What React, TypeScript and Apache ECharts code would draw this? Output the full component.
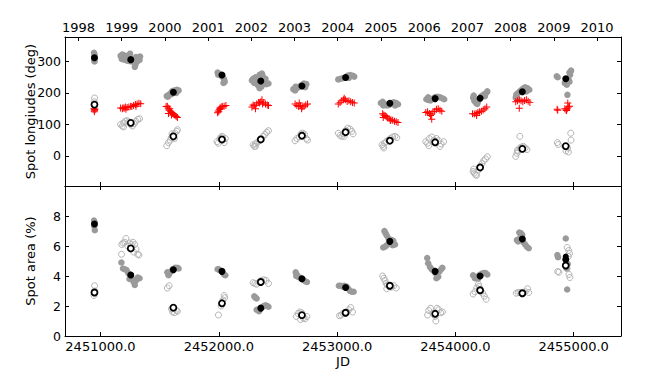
import React, { useEffect, useRef } from "react";
import * as echarts from "echarts";

// ---------- data ----------
const seasonJD = [2450949, 2451256, 2451616, 2452027, 2452355, 2452703, 2453072, 2453446, 2453829, 2454209, 2454566, 2454933];
const spotALonMean = [312, 306, 202, 257, 238, 222, 249, 167, 182, 183, 204, 245];
const spotBLonMean = [163, 105, 62, 52, 52, 64, 75, 48, 43, -37, 22, 31];
const spotAAreaMean = [7.47, 4.07, 4.42, 4.31, 1.86, 3.82, 3.23, 6.31, 4.31, 4.0, 6.47, 5.1];
const spotBAreaMean = [2.9, 5.84, 1.89, 2.18, 3.6, 1.39, 1.55, 3.35, 1.48, 3.05, 2.85, 4.7];
const spotAAreaExtra: [number, number][] = [[2454933, 5.3]];

const jdTicks = [2451000, 2452000, 2453000, 2454000, 2455000];
const yearLabels = ["1998", "1999", "2000", "2001", "2002", "2003", "2004", "2005", "2006", "2007", "2008", "2009", "2010"];
const yearJD = [2450814.5, 2451179.5, 2451544.5, 2451910.5, 2452275.5, 2452640.5, 2453005.5, 2453371.5, 2453736.5, 2454101.5, 2454466.5, 2454832.5, 2455197.5];
const lonTicks = [0, 100, 200, 300];
const areaTicks = [0, 2, 4, 6, 8];

const spotALonSamples: [number, number][] = [
  [2450945, 328], [2450950, 322], [2450948, 316], [2450952, 310], [2450946, 304], [2450950, 300],
  [2451170, 318], [2451185, 322], [2451200, 320], [2451215, 315], [2451230, 318], [2451245, 310], [2451180, 308], [2451200, 306], [2451225, 303], [2451260, 300], [2451280, 306], [2451300, 314], [2451320, 312], [2451335, 316], [2451310, 300], [2451295, 290], [2451290, 283], [2451330, 305], [2451250, 325], [2451240, 302],
  [2451560, 190], [2451575, 193], [2451590, 198], [2451605, 205], [2451625, 208], [2451645, 210], [2451660, 208], [2451640, 200], [2451600, 196], [2451570, 188],
  [2451990, 265], [2452000, 262], [2452010, 258], [2452020, 255], [2452035, 250], [2452045, 243], [2452050, 236], [2452040, 232], [2451995, 258],
  [2452290, 245], [2452300, 232], [2452310, 250], [2452330, 240], [2452345, 258], [2452365, 262], [2452375, 248], [2452385, 235], [2452400, 228], [2452420, 230], [2452330, 225], [2452345, 215], [2452360, 220], [2452280, 240], [2452395, 245], [2452370, 255],
  [2452630, 212], [2452645, 208], [2452660, 215], [2452680, 220], [2452700, 225], [2452720, 230], [2452740, 228], [2452730, 218], [2452650, 220],
  [2453010, 243], [2453030, 245], [2453050, 247], [2453070, 250], [2453090, 255], [2453110, 257], [2453130, 255], [2453145, 252], [2453100, 248],
  [2453370, 168], [2453385, 172], [2453400, 165], [2453420, 160], [2453440, 162], [2453460, 168], [2453480, 170], [2453500, 168], [2453515, 164], [2453490, 160], [2453390, 160],
  [2453755, 180], [2453770, 178], [2453790, 176], [2453810, 182], [2453830, 187], [2453850, 188], [2453870, 186], [2453890, 183], [2453905, 180], [2453770, 186],
  [2454150, 185], [2454160, 175], [2454175, 168], [2454190, 172], [2454200, 180], [2454220, 190], [2454240, 195], [2454260, 200], [2454270, 205], [2454250, 190], [2454155, 192], [2454185, 165],
  [2454510, 185], [2454515, 195], [2454530, 200], [2454545, 205], [2454560, 210], [2454575, 215], [2454590, 218], [2454610, 215], [2454625, 210], [2454600, 205], [2454520, 182],
  [2454865, 250], [2454857, 253], [2454964, 265], [2454978, 271], [2454970, 258], [2454964, 236], [2454942, 226], [2454925, 232], [2454947, 194], [2454955, 246],
];

const redLonSamples: [number, number][] = [
  [2450945, 150], [2450950, 145], [2450948, 140], [2450952, 147],
  [2451170, 152], [2451185, 150], [2451200, 151], [2451215, 148], [2451225, 154], [2451240, 155], [2451255, 158], [2451265, 157], [2451280, 160], [2451295, 163], [2451310, 165], [2451325, 167], [2451340, 166], [2451300, 158], [2451210, 155], [2451190, 153],
  [2451555, 157], [2451565, 158], [2451572, 152], [2451580, 145], [2451585, 150], [2451592, 140], [2451600, 138], [2451610, 135], [2451620, 132], [2451630, 128], [2451640, 125], [2451650, 122], [2451600, 130], [2451575, 135],
  [2451990, 137], [2451995, 143], [2452005, 148], [2452010, 152], [2452020, 155], [2452030, 157], [2452045, 158], [2452060, 160], [2452000, 140], [2452015, 150],
  [2452280, 155], [2452290, 162], [2452300, 160], [2452310, 150], [2452320, 165], [2452335, 170], [2452345, 168], [2452355, 172], [2452365, 178], [2452380, 170], [2452395, 165], [2452410, 162], [2452420, 160], [2452370, 165],
  [2452645, 165], [2452660, 160], [2452675, 157], [2452690, 160], [2452705, 155], [2452720, 158], [2452735, 162], [2452750, 165], [2452700, 150], [2452680, 168],
  [2453010, 165], [2453025, 170], [2453040, 175], [2453055, 178], [2453070, 178], [2453085, 173], [2453100, 175], [2453115, 172], [2453130, 170], [2453145, 168], [2453060, 183],
  [2453385, 134], [2453395, 130], [2453405, 128], [2453415, 125], [2453425, 120], [2453440, 118], [2453455, 115], [2453470, 113], [2453485, 110], [2453500, 108], [2453515, 106], [2453390, 122], [2453450, 112],
  [2453750, 138], [2453765, 140], [2453780, 135], [2453795, 133], [2453810, 140], [2453825, 142], [2453840, 148], [2453855, 150], [2453870, 145], [2453885, 142], [2453800, 116], [2453790, 128],
  [2454145, 134], [2454160, 133], [2454175, 135], [2454190, 138], [2454205, 140], [2454220, 142], [2454235, 146], [2454250, 150], [2454265, 155], [2454180, 128],
  [2454510, 172], [2454525, 175], [2454540, 178], [2454555, 175], [2454570, 172], [2454585, 176], [2454600, 178], [2454615, 174], [2454630, 170], [2454540, 151],
  [2454860, 148], [2454865, 145], [2454925, 150], [2454935, 146], [2454945, 150], [2454955, 155], [2454965, 158], [2454950, 168], [2454940, 144],
];

const spotBLonSamples: [number, number][] = [
  [2450950, 184], [2450948, 172], [2450952, 150], [2450946, 146],
  [2451170, 100], [2451185, 95], [2451195, 105], [2451210, 110], [2451225, 112], [2451240, 108], [2451255, 100], [2451270, 95], [2451285, 102], [2451300, 110], [2451315, 116], [2451330, 118], [2451195, 92],
  [2451560, 32], [2451575, 42], [2451590, 50], [2451600, 58], [2451615, 66], [2451630, 72], [2451645, 78], [2451650, 83], [2451605, 70], [2451625, 55],
  [2451985, 45], [2451995, 40], [2452010, 55], [2452020, 60], [2452035, 50], [2452045, 42], [2452055, 55], [2452030, 62],
  [2452290, 35], [2452300, 30], [2452310, 38], [2452325, 42], [2452340, 48], [2452360, 55], [2452375, 62], [2452390, 68], [2452405, 75], [2452420, 80], [2452310, 30],
  [2452645, 48], [2452660, 55], [2452680, 60], [2452695, 70], [2452710, 72], [2452725, 68], [2452740, 55], [2452750, 50],
  [2453010, 72], [2453025, 65], [2453040, 62], [2453055, 70], [2453075, 82], [2453090, 88], [2453110, 85], [2453125, 78], [2453135, 70], [2453060, 62],
  [2453380, 35], [2453390, 30], [2453400, 40], [2453415, 45], [2453430, 50], [2453450, 55], [2453470, 60], [2453490, 62], [2453505, 58], [2453395, 25],
  [2453750, 45], [2453765, 40], [2453780, 55], [2453800, 60], [2453820, 50], [2453840, 55], [2453860, 48], [2453880, 38], [2453900, 45], [2453775, 32], [2453870, 30],
  [2454150, -50], [2454160, -55], [2454170, -60], [2454180, -62], [2454195, -45], [2454210, -35], [2454225, -25], [2454240, -15], [2454255, -10], [2454270, -3], [2454155, -42],
  [2454510, -2], [2454520, 8], [2454530, 15], [2454545, 25], [2454560, 28], [2454575, 30], [2454590, 25], [2454605, 20], [2454545, 62], [2454525, 18],
  [2454862, 42], [2454870, 36], [2454975, 72], [2454978, 50], [2454935, 16], [2454955, 12], [2454948, 25], [2454925, 30],
];

const spotAAreaSamples: [number, number][] = [
  [2450945, 7.7], [2450950, 7.6], [2450948, 7.3], [2450952, 7.05],
  [2451177, 4.9], [2451190, 4.5], [2451205, 4.45], [2451220, 4.4], [2451235, 4.2], [2451250, 4.0], [2451265, 3.85], [2451280, 3.6], [2451290, 3.4], [2451300, 3.7], [2451315, 3.9], [2451330, 3.85], [2451245, 3.8],
  [2451565, 4.25], [2451580, 4.15], [2451595, 4.3], [2451610, 4.45], [2451630, 4.55], [2451650, 4.55], [2451660, 4.5], [2451575, 4.05],
  [2451990, 4.45], [2452000, 4.45], [2452015, 4.35], [2452030, 4.25], [2452045, 4.1], [2452055, 4.05],
  [2452300, 2.65], [2452310, 2.55], [2452320, 2.5], [2452320, 1.75], [2452335, 1.7], [2452350, 1.8], [2452365, 1.9], [2452380, 2.0], [2452395, 2.05], [2452410, 2.0], [2452420, 1.95], [2452340, 1.65],
  [2452650, 4.25], [2452660, 4.1], [2452670, 3.95], [2452685, 3.9], [2452700, 3.8], [2452715, 3.75], [2452730, 3.65], [2452745, 3.6], [2452655, 4.0],
  [2453015, 3.35], [2453030, 3.35], [2453045, 3.3], [2453060, 3.35], [2453080, 3.3], [2453095, 3.15], [2453110, 3.0], [2453125, 2.95], [2453140, 2.95],
  [2453400, 7.0], [2453410, 6.85], [2453420, 6.7], [2453435, 6.5], [2453440, 6.2], [2453420, 6.05], [2453405, 5.95], [2453390, 5.9], [2453460, 6.4], [2453475, 6.35], [2453490, 6.1], [2453470, 6.05],
  [2453762, 5.2], [2453770, 4.85], [2453785, 4.6], [2453800, 4.45], [2453815, 4.35], [2453830, 4.2], [2453845, 4.1], [2453855, 3.95], [2453865, 4.3], [2453880, 4.45], [2453890, 4.55], [2453840, 3.85],
  [2454150, 4.05], [2454165, 3.85], [2454180, 3.9], [2454200, 4.05], [2454220, 4.15], [2454240, 4.2], [2454255, 4.2], [2454270, 4.1], [2454190, 3.8],
  [2454540, 6.9], [2454555, 6.85], [2454565, 6.75], [2454520, 6.4], [2454530, 6.3], [2454575, 6.25], [2454590, 6.1], [2454605, 5.95], [2454620, 5.85], [2454550, 6.6],
  [2454933, 6.5], [2454862, 5.4], [2454868, 5.25], [2454945, 3.1], [2454945, 4.5], [2454950, 4.8],
];

const spotBAreaSamples: [number, number][] = [
  [2450950, 3.35], [2450945, 2.7], [2450952, 3.0],
  [2451180, 6.1], [2451190, 6.2], [2451205, 6.25], [2451215, 6.5], [2451230, 6.0], [2451245, 6.2], [2451260, 6.1], [2451275, 6.25], [2451290, 6.1], [2451300, 5.8], [2451315, 5.45], [2451325, 5.4], [2451178, 5.45], [2451280, 5.6],
  [2451565, 3.2], [2451580, 3.35], [2451600, 1.8], [2451610, 1.6], [2451625, 1.55], [2451640, 1.7], [2451650, 1.65],
  [2451997, 1.4], [2452020, 2.0], [2452035, 2.4], [2452045, 2.7], [2452050, 2.55],
  [2452290, 3.55], [2452305, 3.5], [2452320, 3.45], [2452340, 3.6], [2452360, 3.7], [2452380, 3.75], [2452400, 3.7], [2452420, 3.5],
  [2452655, 1.3], [2452670, 1.5], [2452685, 1.6], [2452700, 1.55], [2452715, 1.2], [2452730, 1.15], [2452745, 1.3], [2452690, 1.1],
  [2453020, 1.35], [2453035, 1.4], [2453050, 1.5], [2453065, 1.55], [2453085, 1.6], [2453100, 1.75], [2453115, 1.9], [2453130, 1.6],
  [2453385, 4.0], [2453395, 3.85], [2453405, 3.7], [2453415, 3.5], [2453425, 3.4], [2453440, 3.3], [2453460, 3.25], [2453480, 3.35], [2453500, 3.2], [2453420, 3.15],
  [2453765, 1.4], [2453775, 1.7], [2453790, 1.85], [2453810, 1.5], [2453830, 1.3], [2453845, 1.85], [2453860, 1.75], [2453875, 1.55], [2453890, 1.6], [2453835, 1.0],
  [2454150, 2.8], [2454165, 2.95], [2454180, 3.2], [2454200, 3.3], [2454215, 3.0], [2454230, 2.85], [2454245, 2.65], [2454260, 2.45], [2454195, 3.45],
  [2454515, 2.85], [2454530, 2.9], [2454545, 2.9], [2454560, 2.85], [2454575, 2.85], [2454590, 2.95], [2454610, 3.15], [2454620, 2.9],
  [2454945, 5.9], [2454958, 5.7], [2454965, 5.5], [2454955, 5.3], [2454865, 4.3], [2454875, 4.25], [2454960, 4.1], [2454968, 3.9], [2454940, 4.5],
];

// ---------- chart ----------
const FONT = "DejaVu Sans";
const PLUS = "path://M-0.14,-1H0.14V-0.14H1V0.14H0.14V1H-0.14V0.14H-1V-0.14H-0.14Z";

function pairs(xs: number[], ys: number[]): [number, number][] {
  return xs.map((x, i) => [x, ys[i]]);
}

export default function App() {
  const ref = useRef<HTMLDivElement>(null);
  useEffect(() => {
    if (!ref.current) return;
    const chart = echarts.init(ref.current, undefined, { renderer: "svg" });
    const lineStyle = { color: "#000", width: 1 };
    const label = { fontFamily: FONT, fontSize: 13, color: "#000" };
    const yLabel = { fontFamily: FONT, fontSize: 12.5, color: "#000" };
    const xBase = {
      type: "value" as const,
      min: 2450700,
      max: 2455400,
      splitLine: { show: false },
      axisLine: { show: true, onZero: false, lineStyle },
    };
    const jdTick = { show: true, inside: true, length: 4, lineStyle, customValues: jdTicks };
    const yearTick = { show: true, inside: true, length: 4, lineStyle, customValues: yearJD };

    const filled = (data: [number, number][], xi: number, color: string, size: number, z: number) => ({
      type: "scatter",
      xAxisIndex: xi,
      yAxisIndex: xi,
      data,
      symbol: "circle",
      symbolSize: size,
      silent: true,
      z,
      itemStyle: { color, opacity: 1 },
    });
    const open = (data: [number, number][], xi: number, color: string, size: number, bw: number, fill: string, z: number) => ({
      type: "scatter",
      xAxisIndex: xi,
      yAxisIndex: xi,
      data,
      symbol: "circle",
      symbolSize: size,
      silent: true,
      z,
      itemStyle: { color: fill, borderColor: color, borderWidth: bw, opacity: 1 },
    });

    chart.setOption({
      animation: false,
      backgroundColor: "#fff",
      grid: [
        { left: 65, top: 37, right: 33, height: 149, containLabel: false },
        { left: 65, top: 186, right: 33, height: 150, containLabel: false },
      ],
      xAxis: [
        { ...xBase, gridIndex: 0, position: "bottom", axisTick: jdTick, axisLabel: { show: false } },
        { ...xBase, gridIndex: 1, position: "bottom", axisTick: jdTick,
          axisLabel: { ...label, margin: 4, customValues: jdTicks, formatter: (v: number) => v.toFixed(1) },
          name: "JD", nameLocation: "middle", nameGap: 19, nameMoveOverlap: false, nameTextStyle: label },
        { ...xBase, gridIndex: 0, position: "top", axisTick: yearTick,
          axisLabel: { ...label, margin: 3, customValues: yearJD,
            formatter: (v: number) => { const i = yearJD.indexOf(v); return i >= 0 ? yearLabels[i] : ""; } } },
        { ...xBase, gridIndex: 1, position: "top", axisTick: jdTick, axisLabel: { show: false } },
      ],
      yAxis: [
        { type: "value", gridIndex: 0, min: -96, max: 378, position: "left",
          splitLine: { show: false }, axisLine: { show: true, onZero: false, lineStyle },
          axisTick: { show: true, inside: true, length: 4, lineStyle, customValues: lonTicks },
          axisLabel: { ...yLabel, margin: 4, customValues: lonTicks },
          name: "Spot longiudes (deg)", nameLocation: "middle", nameGap: 28, nameRotate: 90,
          nameMoveOverlap: false, nameTextStyle: label },
        { type: "value", gridIndex: 1, min: 0, max: 10, position: "left",
          splitLine: { show: false }, axisLine: { show: true, onZero: false, lineStyle },
          axisTick: { show: true, inside: true, length: 4, lineStyle, customValues: areaTicks },
          axisLabel: { ...yLabel, margin: 4, customValues: areaTicks },
          name: "Spot area (%)", nameLocation: "middle", nameGap: 28, nameRotate: 90,
          nameMoveOverlap: false, nameTextStyle: label },
        { type: "value", gridIndex: 0, min: -96, max: 378, position: "right",
          splitLine: { show: false }, axisLine: { show: true, onZero: false, lineStyle },
          axisTick: { show: true, inside: true, length: 4, lineStyle, customValues: lonTicks },
          axisLabel: { show: false } },
        { type: "value", gridIndex: 1, min: 0, max: 10, position: "right",
          splitLine: { show: false }, axisLine: { show: true, onZero: false, lineStyle },
          axisTick: { show: true, inside: true, length: 4, lineStyle, customValues: areaTicks },
          axisLabel: { show: false } },
      ],
      series: [
        filled(spotALonSamples, 0, "#9a9a9a", 6.5, 2),
        { type: "scatter", xAxisIndex: 0, yAxisIndex: 0, data: redLonSamples, symbol: PLUS, symbolSize: 7,
          silent: true, z: 3, itemStyle: { color: "#ff0000", opacity: 1 } },
        open(spotBLonSamples, 0, "#b4b4b4", 6, 1, "rgba(255,255,255,0)", 2),
        filled(pairs(seasonJD, spotALonMean), 0, "#000", 7, 5),
        open(pairs(seasonJD, spotBLonMean), 0, "#000", 6, 1.8, "#fff", 5),

        filled(spotAAreaSamples, 1, "#9a9a9a", 6.5, 2),
        open(spotBAreaSamples, 1, "#b4b4b4", 6, 1, "rgba(255,255,255,0)", 2),
        filled(pairs(seasonJD, spotAAreaMean), 1, "#000", 7, 5),
        filled(spotAAreaExtra, 1, "#000", 6, 5),
        open(pairs(seasonJD, spotBAreaMean), 1, "#000", 6, 1.8, "#fff", 5),
      ],
    });
    return () => chart.dispose();
  }, []);
  return <div ref={ref} style={{ position: "fixed", left: 0, top: 0, width: 654, height: 374 }} />;
}
